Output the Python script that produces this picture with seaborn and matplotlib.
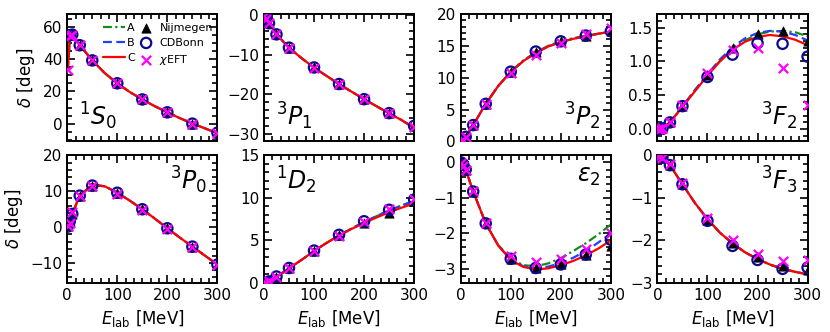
import numpy as np
import matplotlib
matplotlib.use('Agg')
import matplotlib.pyplot as plt
import seaborn as sns
from matplotlib.ticker import MultipleLocator, AutoMinorLocator

# lab energies of the data points and of the curves
e_pts = [1, 5, 10, 25, 50, 100, 150, 200, 250, 300]
e_line = [1, 5, 10, 25, 50, 75, 100, 125, 150, 175, 200, 225, 250, 275, 300]
nan = np.nan

# 1S0
s1s0_nijm = [nan, 54.8, 55.2, 48.6, 39.2, 25.0, 15.0, 7.0, 0.0, -5.6]
s1s0_cdb = [nan, 54.8, 55.2, 48.6, 39.2, 25.0, 15.0, 7.0, 0.0, -5.6]
s1s0_chi = [33.0, 54.5, 55.0, 48.6, 39.2, 25.0, 15.0, 7.0, 0.0, -5.6]
s1s0_c = [33.0, 52.0, 55.0, 48.6, 39.3, 31.3, 25.0, 19.6, 15.0, 10.8, 7.0, 3.4, 0.1, -2.9, -6.0]

# 3P1
p3p1_nijm = [-0.11, -0.9, -2.06, -4.88, -8.25, -13.26, -17.46, -21.3, -24.84, -28.07]
p3p1_chi = [-0.11, -0.9, -2.06, -4.9, -8.3, -13.3, -17.5, -21.3, -24.9, -28.4]
p3p1_c = [-0.11, -0.9, -2.06, -4.88, -8.25, -10.9, -13.3, -15.4, -17.5, -19.4, -21.3, -23.1, -24.9, -26.6, -28.6]

# 3P2
p3p2_nijm = [0.02, 0.25, 0.71, 2.56, 5.89, 10.94, 14.1, 15.7, 16.6, 17.3]
p3p2_chi = [0.02, 0.25, 0.71, 2.5, 5.8, 10.7, 13.6, 15.5, 16.8, 17.8]
p3p2_a = [0.02, 0.25, 0.71, 2.56, 5.9, 8.7, 10.95, 12.7, 14.0, 15.0, 15.7, 16.2, 16.6, 16.9, 17.2]
p3p2_c = [0.02, 0.25, 0.71, 2.56, 5.9, 8.7, 10.9, 12.6, 13.9, 14.9, 15.6, 16.1, 16.5, 16.9, 17.2]

# 3F2
f3f2_nijm = [0.0, 0.002, 0.012, 0.10, 0.34, 0.80, 1.20, 1.41, 1.45, 1.30]
f3f2_cdb = [0.0, 0.002, 0.012, 0.10, 0.34, 0.77, 1.10, 1.27, 1.26, 1.07]
f3f2_chi = [0.0, 0.002, 0.012, 0.10, 0.35, 0.83, 1.17, 1.20, 0.91, 0.36]
f3f2_a = [0.0, 0.002, 0.012, 0.10, 0.33, 0.57, 0.80, 1.01, 1.19, 1.31, 1.40, 1.44, 1.45, 1.43, 1.37]
f3f2_b = [0.0, 0.002, 0.012, 0.10, 0.34, 0.58, 0.81, 1.03, 1.21, 1.34, 1.42, 1.45, 1.44, 1.39, 1.31]
f3f2_c = [0.0, 0.002, 0.012, 0.10, 0.33, 0.56, 0.79, 1.00, 1.17, 1.29, 1.36, 1.39, 1.37, 1.32, 1.24]

# 3P0
p3p0_nijm = [0.2, 1.6, 3.7, 8.8, 11.6, 9.6, 5.0, -0.3, -5.4, -10.4]
p3p0_chi = [0.3, 1.2, 4.1, 8.6, 11.5, 9.3, 4.8, -0.5, -5.6, -10.6]
p3p0_c = [0.2, 1.6, 3.7, 8.8, 11.8, 11.4, 9.6, 7.4, 5.0, 2.4, -0.3, -2.9, -5.4, -7.9, -10.4]

# 1D2
d1d2_nijm = [0.0, 0.04, 0.17, 0.7, 1.7, 3.75, 5.6, 7.05, 8.2, 9.6]
d1d2_cdb = [0.0, 0.04, 0.17, 0.75, 1.75, 3.8, 5.65, 7.25, 8.6, 9.8]
d1d2_chi = [0.0, 0.04, 0.17, 0.72, 1.72, 3.7, 5.55, 7.2, 8.7, 9.9]
d1d2_a = [0.0, 0.04, 0.17, 0.7, 1.7, 2.7, 3.75, 4.7, 5.6, 6.4, 7.15, 7.85, 8.55, 9.1, 9.65]
d1d2_c = [0.0, 0.04, 0.17, 0.7, 1.7, 2.7, 3.75, 4.7, 5.55, 6.35, 7.05, 7.7, 8.3, 8.85, 9.35]

# epsilon_2
e2_nijm = [0.0, -0.05, -0.2, -0.82, -1.72, -2.72, -2.97, -2.87, -2.6, -2.35]
e2_cdb = [0.0, -0.05, -0.2, -0.82, -1.72, -2.72, -2.98, -2.88, -2.6, -2.18]
e2_chi = [-0.02, -0.1, -0.22, -0.8, -1.7, -2.65, -2.82, -2.72, -2.45, -2.0]
e2_a = [0.0, -0.05, -0.2, -0.82, -1.72, -2.33, -2.72, -2.9, -2.93, -2.85, -2.7, -2.5, -2.28, -2.03, -1.75]
e2_b = [0.0, -0.05, -0.2, -0.82, -1.72, -2.34, -2.74, -2.93, -2.98, -2.94, -2.84, -2.69, -2.5, -2.26, -2.0]
e2_c = [0.0, -0.05, -0.2, -0.82, -1.72, -2.35, -2.75, -2.95, -3.02, -2.99, -2.9, -2.78, -2.62, -2.43, -2.2]

# 3F3
f3f3_nijm = [0.0, -0.01, -0.05, -0.23, -0.68, -1.52, -2.05, -2.4, -2.6, -2.69]
f3f3_cdb = [0.0, -0.01, -0.05, -0.23, -0.68, -1.54, -2.13, -2.46, -2.67, -2.64]
f3f3_chi = [0.0, -0.01, -0.05, -0.2, -0.66, -1.48, -1.98, -2.32, -2.48, -2.46]
f3f3_c = [0.0, -0.01, -0.05, -0.23, -0.68, -1.12, -1.5, -1.82, -2.07, -2.28, -2.44, -2.57, -2.67, -2.74, -2.8]

# panel: label, (nijm, cdbonn, chieft), (A, B, C), ylim, major step, label pos
panels = [
    (r'$^1S_0$', (s1s0_nijm, s1s0_cdb, s1s0_chi), (s1s0_c, s1s0_c, s1s0_c), (-11, 68), 20, (0.08, 0.07, 'left', 'bottom')),
    (r'$^3P_1$', (p3p1_nijm, p3p1_nijm, p3p1_chi), (p3p1_c, p3p1_c, p3p1_c), (-32, 0.3), 10, (0.08, 0.07, 'left', 'bottom')),
    (r'$^3P_2$', (p3p2_nijm, p3p2_nijm, p3p2_chi), (p3p2_a, p3p2_c, p3p2_c), (0, 20), 5, (0.93, 0.07, 'right', 'bottom')),
    (r'$^3F_2$', (f3f2_nijm, f3f2_cdb, f3f2_chi), (f3f2_a, f3f2_b, f3f2_c), (-0.18, 1.7), 0.5, (0.93, 0.07, 'right', 'bottom')),
    (r'$^3P_0$', (p3p0_nijm, p3p0_nijm, p3p0_chi), (p3p0_c, p3p0_c, p3p0_c), (-15.5, 20), 10, (0.93, 0.93, 'right', 'top')),
    (r'$^1D_2$', (d1d2_nijm, d1d2_cdb, d1d2_chi), (d1d2_a, d1d2_a, d1d2_c), (0, 15), 5, (0.08, 0.93, 'left', 'top')),
    (r'$\varepsilon_2$', (e2_nijm, e2_cdb, e2_chi), (e2_a, e2_b, e2_c), (-3.4, 0.2), 1, (0.93, 0.93, 'right', 'top')),
    (r'$^3F_3$', (f3f3_nijm, f3f3_cdb, f3f3_chi), (f3f3_c, f3f3_c, f3f3_c), (-3, 0), 1, (0.93, 0.93, 'right', 'top')),
]

sns.set_style('ticks')
plt.rcParams['font.family'] = ['DejaVu Sans']
plt.rcParams['mathtext.fontset'] = 'dejavusans'
plt.rcParams['text.color'] = 'black'
plt.rcParams['axes.labelcolor'] = 'black'
plt.rcParams['axes.edgecolor'] = 'black'
plt.rcParams['xtick.color'] = 'black'
plt.rcParams['ytick.color'] = 'black'

fig, axes = plt.subplots(2, 4, figsize=(8.3, 3.32), dpi=100, sharex=True)
fig.subplots_adjust(left=0.081, right=0.973, top=0.958, bottom=0.148, wspace=0.31, hspace=0.11)

line_styles = [('A', '#1a8a1a', (0, (4, 1.5, 1, 1.5))), ('B', '#1f3fff', (0, (4, 2))), ('C', 'red', '-')]

for ax, (name, pts, curves, ylim, step, lpos) in zip(axes.flat, panels):
    for (lab, col, ls), yv in zip(line_styles, curves):
        sns.lineplot(x=e_line, y=yv, ax=ax, color=col, linestyle=ls, lw=1.6, label=lab, zorder=2)
    sns.scatterplot(x=e_pts, y=pts[0], ax=ax, marker='^', color='black', s=45, edgecolor='black', linewidth=0.5, label='Nijmegen', zorder=3)
    sns.scatterplot(x=e_pts, y=pts[1], ax=ax, marker='o', facecolor='none', edgecolor='#0a0a8c', s=55, linewidth=1.6, label='CDBonn', zorder=4)
    sns.scatterplot(x=e_pts, y=pts[2], ax=ax, marker='x', color='magenta', s=45, linewidth=1.6, label=r'$\chi$EFT', zorder=5)
    ax.set_xlim(0, 300)
    ax.set_ylim(*ylim)
    ax.xaxis.set_major_locator(MultipleLocator(100))
    ax.xaxis.set_minor_locator(AutoMinorLocator(6))
    ax.yaxis.set_major_locator(MultipleLocator(step))
    ax.yaxis.set_minor_locator(AutoMinorLocator())
    ax.tick_params(which='both', direction='in', top=True, right=True, labelsize=11,
                   width=1.2, color='black')
    ax.tick_params(which='major', length=6)
    ax.tick_params(which='minor', length=3.5)
    for sp in ax.spines.values():
        sp.set_linewidth(1.4)
    ax.text(lpos[0], lpos[1], name, transform=ax.transAxes, ha=lpos[2], va=lpos[3], fontsize=17)
    ax.set_xlabel('')
    ax.set_ylabel('')
    if ax.get_legend() is not None:
        ax.get_legend().remove()

ax0 = axes[0, 0]
h, l = ax0.get_legend_handles_labels()
ax0.legend(h, l, ncol=2, loc='upper right', bbox_to_anchor=(1.0, 0.965), frameon=False,
           fontsize=8, handlelength=2.0, handletextpad=0.2, columnspacing=0.0,
           labelspacing=0.45, borderaxespad=0.2, borderpad=0.2)

for ax in axes[:, 0]:
    ax.set_ylabel(r'$\delta$ [deg]', fontsize=12)
for ax in axes[1, :]:
    ax.set_xlabel(r'$E_{\rm lab}$ [MeV]', fontsize=12)
for ax in axes[0, :]:
    ax.tick_params(labelbottom=False)

axes[0, 3].yaxis.set_major_formatter(matplotlib.ticker.FormatStrFormatter('%.1f'))

fig.savefig('out.png', dpi=100)
